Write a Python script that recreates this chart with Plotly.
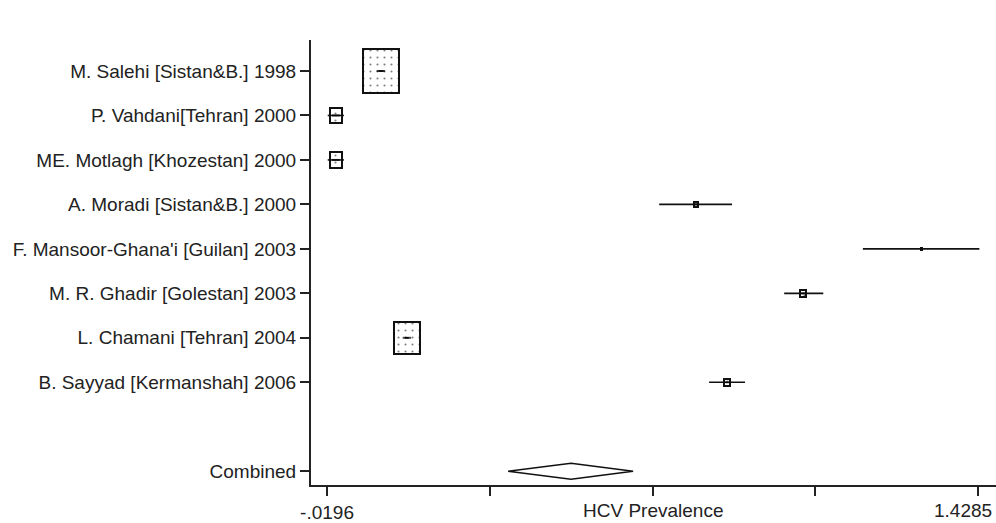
import numpy as np
import plotly.graph_objects as go

# ---------------- data ----------------
studies = [
    "M. Salehi [Sistan&B.] 1998",
    "P. Vahdani[Tehran] 2000",
    "ME. Motlagh [Khozestan] 2000",
    "A. Moradi [Sistan&B.] 2000",
    "F. Mansoor-Ghana'i [Guilan] 2003",
    "M. R. Ghadir [Golestan] 2003",
    "L. Chamani [Tehran] 2004",
    "B. Sayyad [Kermanshah] 2006",
]
estimate = [0.100, 0.000, 0.000, 0.801, 1.302, 1.039, 0.158, 0.870]
ci_low   = [0.095, -0.018, -0.018, 0.719, 1.172, 0.997, 0.154, 0.830]
ci_high  = [0.106, 0.018, 0.018, 0.881, 1.431, 1.084, 0.162, 0.910]
weight   = [54.8, 6.5, 6.5, 0.5, 0.1, 1.2, 29.0, 1.2]   # percent weights

combined_label = "Combined"
combined_est = 0.523
combined_low = 0.383
combined_high = 0.661

x_tick_vals = [-0.0196, 0.3424, 0.7045, 1.0665, 1.4285]
x_tick_text = ["-.0196", "", "", "", ""]
x_max_label = "1.4285"
x_title = "HCV Prevalence"

# ---------------- layout helpers ----------------
W, H = 996, 523
m_l, m_r, m_t, m_b = 311, 0, 40, 35
x_range = [-0.0552, 1.468]
n = len(studies)
rows = list(range(1, n + 1))
comb_row = n + 2
y_range = [10.31, 0.303]

px_x = (x_range[1] - x_range[0]) / (W - m_l - m_r)
px_y = (y_range[0] - y_range[1]) / (H - m_t - m_b)

k = 4.86  # px of box width per sqrt(weight)
box_w_px = [k * np.sqrt(w) for w in weight]
box_h_px = [1.25 * b for b in box_w_px]

fig = go.Figure()

# weight boxes as horizontal bars with dotted pattern
fig.add_trace(go.Bar(
    orientation="h",
    y=rows,
    x=[b * px_x for b in box_w_px],
    base=[e - b * px_x / 2 for e, b in zip(estimate, box_w_px)],
    width=[b * px_y for b in box_h_px],
    marker=dict(
        color="white",
        line=dict(color="#111", width=2),
        pattern=dict(shape=".", fgcolor="black", bgcolor="white", size=7, solidity=0.07),
    ),
    showlegend=False,
    hoverinfo="skip",
))

# CIs + point estimates
fig.add_trace(go.Scatter(
    x=estimate,
    y=rows,
    mode="markers",
    marker=dict(symbol="line-ew", size=[min(6, 0.45 * b) for b in box_w_px],
                line=dict(color="black", width=2), color="black"),
    error_x=dict(type="data", symmetric=False,
                 array=[h - e for h, e in zip(ci_high, estimate)],
                 arrayminus=[e - l for e, l in zip(estimate, ci_low)],
                 width=0, thickness=1.6, color="#111"),
    showlegend=False,
))

# combined diamond
dh = 8 * px_y
fig.add_trace(go.Scatter(
    x=[combined_low, combined_est, combined_high, combined_est, combined_low],
    y=[comb_row, comb_row - dh, comb_row, comb_row + dh, comb_row],
    mode="lines", fill="toself", fillcolor="white",
    line=dict(color="#111", width=1.5),
    showlegend=False,
))

font_family = "Arial, Liberation Sans, sans-serif"
fs = 19

fig.update_layout(
    width=W, height=H,
    margin=dict(l=m_l, r=m_r, t=m_t, b=m_b),
    plot_bgcolor="white", paper_bgcolor="white",
    font=dict(family=font_family, size=fs, color="#222"),
    bargap=0,
    xaxis=dict(
        range=x_range, showgrid=False, zeroline=False,
        showline=True, linecolor="#222", linewidth=2,
        tickmode="array", tickvals=x_tick_vals, ticktext=x_tick_text,
        ticks="outside", ticklen=9, tickwidth=1.5, tickcolor="#222",
        tickfont=dict(size=fs, color="#222"),
    ),
    yaxis=dict(
        range=y_range, showgrid=False, zeroline=False,
        showline=True, linecolor="#222", linewidth=2,
        tickmode="array", tickvals=rows + [comb_row], ticktext=studies + [combined_label],
        ticks="outside", ticklen=9, tickwidth=1.5, tickcolor="#222",
        tickfont=dict(size=fs, color="#222"),
    ),
    annotations=[
        dict(x=x_tick_vals[2], y=0, xref="x", yref="paper",
             text=x_title, showarrow=False, yanchor="top", yshift=-13,
             font=dict(size=fs, color="#222")),
        dict(x=x_tick_vals[-1], y=0, xref="x", yref="paper",
             text=x_max_label, showarrow=False, yanchor="top", xanchor="right",
             xshift=16, yshift=-13, font=dict(size=fs, color="#222")),
    ],
)

fig.write_html(
    "out.html",
    config={"displayModeBar": False},
    post_script="document.body.style.margin='0';document.body.style.overflow='hidden';",
)
